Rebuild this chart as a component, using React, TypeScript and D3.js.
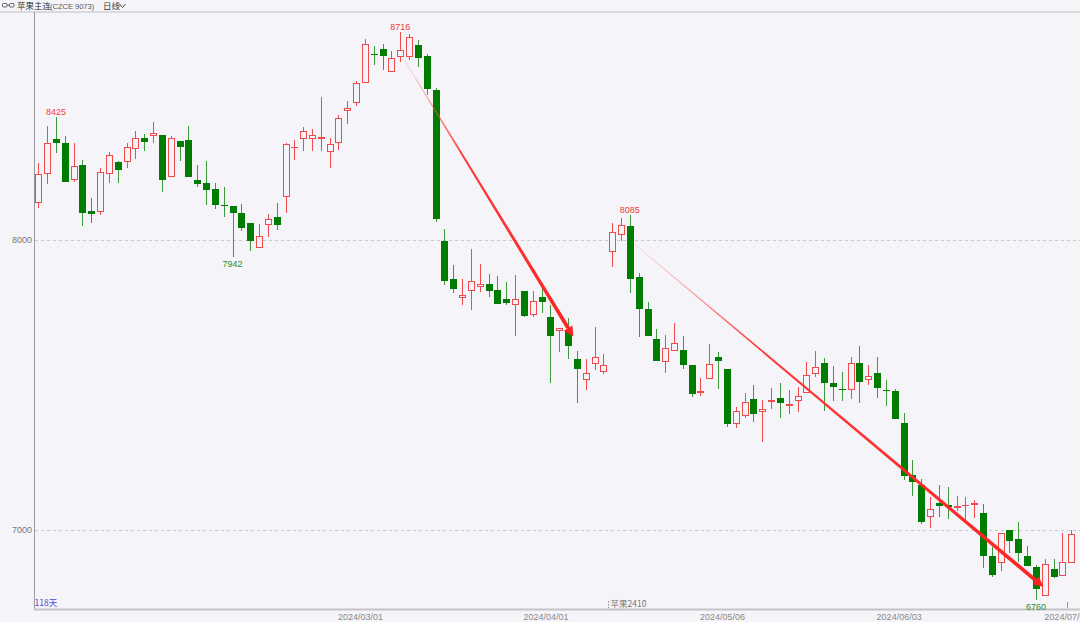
import React from "react";
import * as d3 from "d3";

// ---- Data ----
const opens = [8126,8228,8347,8335,8206,8257,8101,8095,8228,8268,8268,8313,8353,8357,8362,8216,8340,8345,8207,8196,8175,8122,8117,8094,8060,7972,8051,8079,8147,8317,8348,8348,8348,8305,8336,8445,8472,8540,8641,8657,8581,8630,8630,8672,8636,8517,7998,7867,7800,7824,7838,7848,7828,7797,7775,7825,7741,7802,7736,7687,7686,7589,7516,7571,7546,7957,8018,8047,7873,7762,7659,7578,7618,7621,7568,7471,7522,7598,7555,7366,7393,7453,7406,7440,7455,7429,7445,7471,7538,7577,7506,7487,7483,7577,7517,7542,7484,7480,7368,7191,7155,7044,7094,7086,7075,7084,7086,7060,6910,6886,7000,6970,6910,6874,6771,6867,6842,6886];
const highs = [8264,8393,8425,8359,8335,8275,8144,8247,8304,8272,8335,8376,8366,8407,8362,8357,8340,8394,8257,8272,8196,8182,8117,8123,8060,8055,8090,8127,8336,8345,8391,8382,8494,8351,8431,8479,8548,8692,8670,8675,8652,8716,8710,8689,8640,8525,8038,7914,7864,7968,7917,7883,7876,7855,7879,7825,7825,7851,7776,7697,7730,7618,7589,7699,7607,8060,8075,8085,7887,7787,7692,7672,7715,7669,7568,7525,7641,7615,7555,7425,7473,7500,7448,7491,7506,7483,7494,7578,7617,7592,7566,7544,7598,7634,7569,7595,7517,7485,7404,7241,7177,7115,7155,7147,7118,7115,7105,7090,6942,6991,7000,7026,6945,6879,6899,6899,6991,7000];
const lows = [8109,8192,8299,8201,8201,8048,8057,8087,8195,8195,8250,8280,8306,8335,8167,8216,8273,8218,8182,8121,8106,8080,7942,8032,7963,7972,8011,8034,8092,8276,8307,8307,8307,8247,8310,8399,8462,8540,8603,8585,8581,8615,8621,8598,8500,8063,7845,7818,7776,7759,7822,7804,7779,7776,7670,7733,7733,7749,7506,7615,7589,7439,7483,7552,7538,7906,7998,7816,7664,7668,7583,7540,7618,7554,7458,7463,7522,7486,7356,7351,7385,7371,7305,7417,7385,7400,7408,7471,7529,7411,7446,7446,7451,7437,7499,7454,7428,7383,7172,7117,7021,7006,7046,7037,7066,7034,7043,6868,6839,6860,6922,6891,6876,6760,6771,6834,6842,6886];
const closes = [8228,8335,8335,8201,8255,8094,8090,8236,8293,8241,8322,8353,8338,8368,8206,8353,8322,8218,8193,8172,8122,8118,8094,8043,7998,8014,8073,8051,8332,8319,8375,8361,8356,8331,8422,8455,8540,8675,8639,8636,8628,8654,8699,8626,8521,8071,7860,7831,7809,7857,7847,7825,7779,7784,7797,7739,7789,7786,7670,7697,7634,7554,7542,7598,7569,8026,8051,7864,7762,7668,7583,7626,7644,7569,7469,7480,7571,7583,7366,7411,7443,7401,7418,7447,7437,7434,7462,7536,7561,7506,7494,7485,7575,7511,7530,7489,7481,7383,7187,7166,7029,7071,7083,7081,7083,7086,7092,6910,6845,6991,6963,6922,6876,6796,6882,6839,6888,6986];

const priceTicks = [8000, 7000];
const dateLabels = ["2024/03/01", "2024/04/01", "2024/05/06", "2024/06/03", "2024/07/01"];
const dateLabelIndex = [37, 58, 78, 98, 117];

// extreme labels: [index, value, kind]
const markIndex = [2, 41, 22, 67, 113];
const markValue = [8425, 8716, 7942, 8085, 6760];
const markKind = ["high", "high", "low", "high", "low"];

// trend arrows: start [index, price] -> end [index, price]
const trendStartIdx = [41.34, 67.4];
const trendStartPx = [8627, 7989];
const trendEndIdx = [60.6, 113.83];
const trendEndPx = [7667, 6804];
const trendFadeUntil = [0.35, 0.3];

const rollIndex = 65;
const rollLabel = "苹果2410";
const dayCountLabel = "118天";

const W = 1080;
const H = 622;
const BG = "#f5f5f9";
const RED = "#f04a4a";
const GREEN = "#007d00";
const GREEN_WICK = "#3c9a3c";
const NUM_FONT = "'Liberation Sans', Arial, sans-serif";
const CJK_FONT = "'Noto Sans CJK SC', sans-serif";

export default function App() {
  const n = opens.length;
  const x = d3.scaleLinear().domain([0, n - 1]).range([38.3, 1071.3]);
  const y = d3.scaleLinear().domain([7000, 8000]).range([530, 240]);
  const step = x(1) - x(0);
  const axisX = 34;
  const top = 12;
  const bottom = 609;

  const candles = d3.range(n).map((i) => {
    const o = opens[i], c = closes[i], h = highs[i], l = lows[i];
    const cx = Math.round(x(i)) + 0.5;
    const up = c >= o;
    const yTop = Math.round(y(Math.max(o, c)));
    const yBot = Math.round(y(Math.min(o, c)));
    const yH = Math.round(y(h));
    const yL = Math.round(y(l));
    if (up) {
      const bh = Math.max(yBot - yTop, 1);
      return (
        <g key={i}>
          {yH < yTop && <line x1={cx} x2={cx} y1={yH} y2={yTop} stroke={RED} strokeWidth={1} />}
          {yL > yTop + bh && <line x1={cx} x2={cx} y1={yTop + bh} y2={yL} stroke={RED} strokeWidth={1} />}
          {bh <= 1 ? (
            <line x1={cx - 3.5} x2={cx + 3.5} y1={yTop + 0.5} y2={yTop + 0.5} stroke={RED} strokeWidth={1} />
          ) : (
            <rect x={cx - 3} y={yTop + 0.5} width={6} height={bh - 1 < 1 ? 1 : bh - 1 + 0} fill={BG} stroke={RED} strokeWidth={1} />
          )}
        </g>
      );
    }
    const bh = Math.max(yBot - yTop, 1);
    return (
      <g key={i}>
        <line x1={cx} x2={cx} y1={yH} y2={yL} stroke={GREEN_WICK} strokeWidth={1} />
        <rect x={cx - 3.5} y={yTop} width={7} height={bh} fill={GREEN} />
      </g>
    );
  });

  const trends = trendStartIdx.map((_, k) => {
    const x0 = x(trendStartIdx[k]), y0 = y(trendStartPx[k]);
    const x1 = x(trendEndIdx[k]), y1 = y(trendEndPx[k]);
    const dx = x1 - x0, dy = y1 - y0;
    const len = Math.hypot(dx, dy);
    const ux = dx / len, uy = dy / len;
    const nx = -uy, ny = ux;
    const headLen = 10, headHalf = 5;
    const bx = x1 - ux * headLen, by = y1 - uy * headLen;
    const w0 = 0.4, w1 = 1.9;
    const body = [
      [x0 + nx * w0, y0 + ny * w0],
      [bx + nx * w1, by + ny * w1],
      [bx - nx * w1, by - ny * w1],
      [x0 - nx * w0, y0 - ny * w0],
    ];
    const head = [
      [x1, y1],
      [bx + nx * headHalf, by + ny * headHalf],
      [bx - nx * headHalf, by - ny * headHalf],
    ];
    const id = `tg${k}`;
    return (
      <g key={k}>
        <defs>
          <linearGradient id={id} gradientUnits="userSpaceOnUse" x1={x0} y1={y0} x2={x1} y2={y1}>
            <stop offset="0" stopColor="#ff6b6b" stopOpacity={0.15} />
            <stop offset={trendFadeUntil[k]} stopColor="#ff3030" stopOpacity={0.95} />
            <stop offset="1" stopColor="#ff2222" stopOpacity={1} />
          </linearGradient>
        </defs>
        <polygon points={body.map((p) => p.join(",")).join(" ")} fill={`url(#${id})`} />
        <polygon points={head.map((p) => p.join(",")).join(" ")} fill="#ff2222" />
      </g>
    );
  });

  const marks = markIndex.map((idx, k) => {
    const isHigh = markKind[k] === "high";
    const v = markValue[k];
    return (
      <text
        key={k}
        x={x(idx)}
        y={isHigh ? y(v) - 2 : y(v) + 10}
        textAnchor="middle"
        fontFamily={NUM_FONT}
        fontSize={9}
        fill={isHigh ? "#f03a3a" : "#2e8b2e"}
      >
        {v}
      </text>
    );
  });

  const rollX = Math.round(x(rollIndex) - step / 2) + 0.5;
  const lastTickX = Math.round(x(dateLabelIndex[dateLabelIndex.length - 1]) - step / 2) + 0.5;

  return (
    <svg
      width={W}
      height={H}
      style={{ position: "fixed", left: 0, top: 0, display: "block", background: BG }}
    >
      <rect x={0} y={0} width={W} height={H} fill={BG} />
      {/* header */}
      <g stroke="#555" strokeWidth={0.9} fill="none">
        <rect x={2.5} y={3.5} width={4.5} height={3.5} rx={1} />
        <rect x={9.5} y={3.5} width={4.5} height={3.5} rx={1} />
        <line x1={7} x2={9.5} y1={5.2} y2={5.2} />
      </g>
      <text x={17} y={9} fontFamily={CJK_FONT} fontSize={8.5} fill="#333">苹果主连</text>
      <text x={50} y={9} fontFamily={NUM_FONT} fontSize={7.5} fill="#555">(CZCE 9073)</text>
      <text x={103} y={9} fontFamily={CJK_FONT} fontSize={8.5} fill="#333">日线</text>
      <polyline points="119.5,4 122.5,7.5 125.5,4" fill="none" stroke="#444" strokeWidth={1} />
      <line x1={0} x2={W} y1={12} y2={12} stroke="#cfcfd4" strokeWidth={1.5} />

      {/* grid + y labels */}
      {priceTicks.map((p) => (
        <g key={p}>
          <line x1={axisX + 1} x2={W} y1={Math.round(y(p)) + 0.5} y2={Math.round(y(p)) + 0.5} stroke="#c9c9cc" strokeDasharray="3,3" strokeWidth={1} />
          <text x={32} y={y(p) + 3} textAnchor="end" fontFamily={NUM_FONT} fontSize={9} fill="#777">{p}</text>
        </g>
      ))}

      {/* axes */}
      <line x1={axisX + 0.5} x2={axisX + 0.5} y1={top} y2={bottom} stroke="#9a9a9e" strokeWidth={1} />
      <line x1={axisX} x2={W} y1={bottom + 0.5} y2={bottom + 0.5} stroke="#c4c4c8" strokeWidth={2} />

      {candles}
      {trends}
      {marks}

      {/* bottom texts */}
      <text x={axisX + 0.5} y={606} fontFamily={CJK_FONT} fontSize={8.5} fill="#4848d8">{dayCountLabel}</text>
      <line x1={rollX} x2={rollX} y1={601} y2={608} stroke="#888" strokeWidth={1} strokeDasharray="1.5,1.5" />
      <text x={rollX + 2} y={607} fontFamily={CJK_FONT} fontSize={8.5} fill="#777">{rollLabel}</text>
      <line x1={lastTickX} x2={lastTickX} y1={602} y2={608} stroke="#999" strokeWidth={1} />
      {dateLabels.map((d, k) => (
        <text
          key={d}
          x={x(dateLabelIndex[k]) - step / 2}
          y={620}
          textAnchor="middle"
          fontFamily={NUM_FONT}
          fontSize={9}
          fill="#888"
        >
          {d}
        </text>
      ))}
    </svg>
  );
}
